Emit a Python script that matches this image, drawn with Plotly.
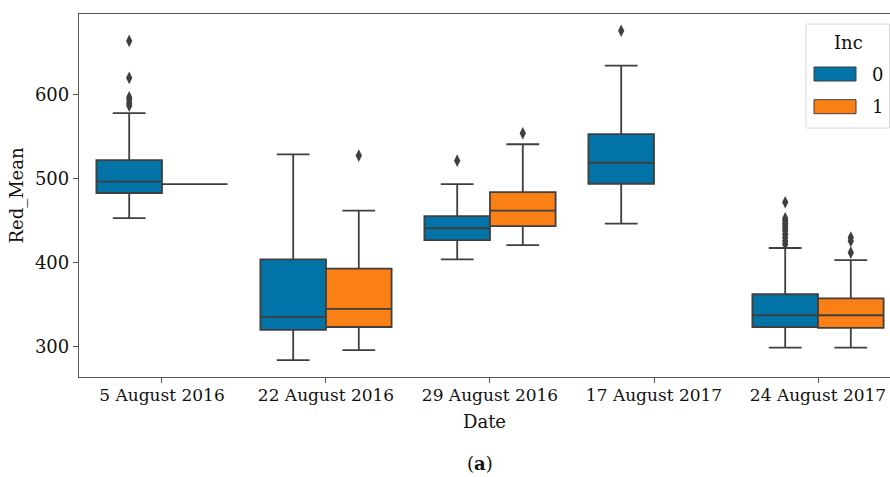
import plotly.graph_objects as go

# Box statistics of Red_Mean per acquisition date, split by Inc
dates = ["5 August 2016", "22 August 2016", "29 August 2016", "17 August 2017", "24 August 2017"]

inc0_q1 = [483, 320, 427, 494, 323.5]
inc0_median = [496.5, 335.5, 441, 519, 337.5]
inc0_q3 = [522, 404, 455.5, 553, 362.5]
inc0_low = [453, 284, 404, 446.5, 299]
inc0_high = [578, 529, 493.5, 634.5, 417.5]
inc0_outliers = [
    [664, 620, 597, 594, 590, 587],
    [],
    [521.5],
    [676],
    [472, 453, 450, 447, 444, 441, 438, 434, 430, 426, 422],
]

inc1_q1 = [493.5, 323.5, 443.5, None, 322.5]
inc1_median = [493.5, 345, 462, None, 337.5]
inc1_q3 = [493.5, 393, 484, None, 357.5]
inc1_low = [493.5, 296, 421, None, 299]
inc1_high = [493.5, 462, 541, None, 403]
inc1_outliers = [[], [527.5], [554], [], [430, 426, 412]]

inc_labels = ["0", "1"]
colors = ["#0173A6", "#FA7F14"]
edge = "#3f3f3f"
font_family = "DejaVu Serif"
fs = 18
tick_fs = 17

W, H = 890, 477
ML, MR, MT, MB = 79, 0, 14, 100
plot_w = W - ML - MR
plot_h = H - MT - MB


def px_x(p):
    return (p - ML) / plot_w


def px_y(p):
    return (H - MB - p) / plot_h


fig = go.Figure()

groups = [
    (inc0_q1, inc0_median, inc0_q3, inc0_low, inc0_high, inc0_outliers, -0.2, colors[0]),
    (inc1_q1, inc1_median, inc1_q3, inc1_low, inc1_high, inc1_outliers, 0.2, colors[1]),
]

for q1, med, q3, lo, hi, outs, off, col in groups:
    for i in range(len(dates)):
        if q1[i] is None:
            continue
        fig.add_trace(go.Box(
            x=[i + off], q1=[q1[i]], median=[med[i]], q3=[q3[i]],
            lowerfence=[lo[i]], upperfence=[hi[i]],
            width=0.4, whiskerwidth=0.5,
            fillcolor=col, line=dict(color=edge, width=1.8),
            boxpoints=False, showlegend=False, hoverinfo="skip",
        ))
    ox, oy = [], []
    for i, vals in enumerate(outs):
        ox += [i + off] * len(vals)
        oy += vals
    fig.add_trace(go.Scatter(
        x=ox, y=oy, mode="markers",
        marker=dict(symbol="diamond-tall", size=9, color=edge, line=dict(width=0)),
        showlegend=False, hoverinfo="skip",
    ))

# legend drawn as shapes and text
shapes = [
    dict(type="rect", xref="paper", yref="paper",
         x0=px_x(806), x1=px_x(889.5), y0=px_y(128), y1=px_y(24),
         line=dict(color="#d6d6d6", width=1), fillcolor="rgba(255,255,255,0.85)", layer="above"),
]
annotations = [
    dict(text="Inc", xref="paper", yref="paper", x=px_x(848), y=px_y(42),
         showarrow=False, font=dict(size=fs, color="#111", family=font_family),
         xanchor="center", yanchor="middle"),
]
for k, (lab, col) in enumerate(zip(inc_labels, colors)):
    yc = 74 + k * 32.7
    shapes.append(dict(type="rect", xref="paper", yref="paper",
                       x0=px_x(814), x1=px_x(856), y0=px_y(yc + 7), y1=px_y(yc - 7),
                       line=dict(color=edge, width=1), fillcolor=col, layer="above"))
    annotations.append(dict(text=lab, xref="paper", yref="paper", x=px_x(877), y=px_y(yc),
                            showarrow=False, font=dict(size=fs, color="#111", family=font_family),
                            xanchor="center", yanchor="middle"))

annotations.append(dict(text="(<b>a</b>)", xref="paper", yref="paper", x=px_x(480), y=px_y(463),
                        showarrow=False, font=dict(size=fs, color="#111", family=font_family),
                        xanchor="center", yanchor="middle"))

fig.update_layout(
    width=W, height=H,
    margin=dict(l=ML, r=MR, t=MT, b=MB),
    plot_bgcolor="white", paper_bgcolor="white",
    boxmode="overlay",
    font=dict(family=font_family, size=fs, color="#111"),
    shapes=shapes, annotations=annotations,
    xaxis=dict(
        range=[-0.506, 4.439], tickvals=list(range(len(dates))), ticktext=dates,
        showgrid=False, zeroline=False, showline=True, mirror=True,
        linecolor="#555", linewidth=1.3, ticks="outside", ticklen=5, tickcolor="#555",
        ticklabelstandoff=-3,
        title=dict(text="Date", standoff=11, font=dict(size=fs)),
        tickfont=dict(size=tick_fs),
    ),
    yaxis=dict(
        range=[264, 696], tickvals=[300, 400, 500, 600],
        showgrid=False, zeroline=False, showline=True, mirror=False,
        linecolor="#555", linewidth=1.3, ticks="outside", ticklen=5, tickcolor="#555",
        title=dict(text="Red_Mean", standoff=6, font=dict(size=fs)),
        tickfont=dict(size=fs),
    ),
)

fig.write_html("out.html")
